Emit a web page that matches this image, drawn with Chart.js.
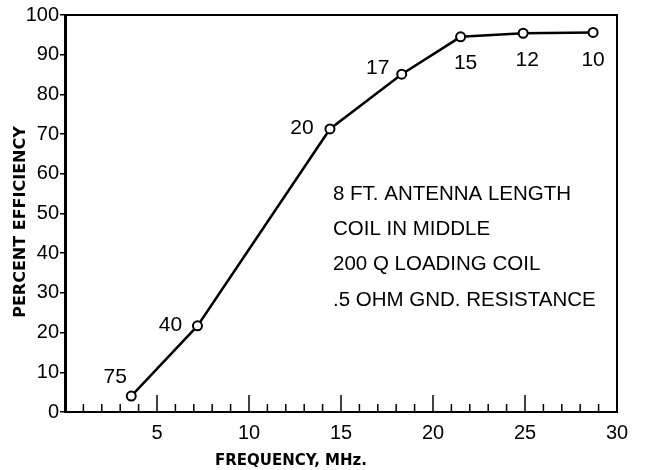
<!DOCTYPE html>
<html>
<head>
<meta charset="utf-8">
<script src="https://cdn.jsdelivr.net/npm/chart.js@4"></script>
<style>
  body { margin: 0; background: #fff; }
  #wrap { width: 645px; height: 470px; }
</style>
</head>
<body>
<div id="wrap"><canvas id="effChart" width="645" height="470"></canvas></div>
<script>
// frequency in MHz, efficiency in percent, band in meters
const freqMHz = [3.6, 7.2, 14.4, 18.3, 21.5, 24.9, 28.7]
const efficiency = [4, 21.7, 71.3, 85.1, 94.5, 95.4, 95.6]
const bandMeters = ["75", "40", "20", "17", "15", "12", "10"]
const noteLines = ["8 FT. ANTENNA LENGTH", "COIL IN MIDDLE", "200 Q LOADING COIL", ".5 OHM GND. RESISTANCE"]

const font = "'Liberation Sans', Arial, sans-serif"
const heavy = "'DejaVu Sans', sans-serif"

// where each band label sits relative to its point (px)
const labelOffsets = [[-16, -19], [-27, -1], [-28, -1], [-24, -6], [5, 26], [4, 27], [0, 28]]

const decorPlugin = {
    id: "decor",
    afterDraw(chart) {
        const ctx = chart.ctx
        const area = chart.chartArea
        const xs = chart.scales.x
        const ys = chart.scales.y
        ctx.save()

        // frame: top and right
        ctx.strokeStyle = "#000"
        ctx.lineWidth = 2
        ctx.beginPath()
        ctx.moveTo(area.left, area.top)
        ctx.lineTo(area.right, area.top)
        ctx.lineTo(area.right, area.bottom)
        ctx.stroke()

        // inward ticks on the frequency axis
        ctx.lineWidth = 1.5
        for (let v = 1; v < 30; v++) {
            const px = xs.getPixelForValue(v)
            const len = v % 5 === 0 ? 17 : 8
            ctx.beginPath()
            ctx.moveTo(px, area.bottom)
            ctx.lineTo(px, area.bottom - len)
            ctx.stroke()
        }

        // band labels
        ctx.fillStyle = "#000"
        ctx.font = "21px " + font
        ctx.textAlign = "center"
        ctx.textBaseline = "middle"
        bandMeters.forEach((b, i) => {
            const px = xs.getPixelForValue(freqMHz[i]) + labelOffsets[i][0]
            const py = ys.getPixelForValue(efficiency[i]) + labelOffsets[i][1]
            ctx.fillText(b, px, py)
        })

        // notes
        ctx.font = "20.5px " + font
        ctx.textAlign = "left"
        noteLines.forEach((t, i) => ctx.fillText(t, 333, 194 + i * 35.3))

        // axis titles
        ctx.font = "bold 15px " + heavy
        ctx.fillText("FREQUENCY, MHz.", 215, 461)
        ctx.save()
        ctx.translate(21, 222)
        ctx.rotate(-Math.PI / 2)
        ctx.textAlign = "center"
        ctx.font = "bold 16px " + heavy
        ctx.fillText("PERCENT EFFICIENCY", 0, 0)
        ctx.restore()

        ctx.restore()
    }
}

new Chart(document.getElementById("effChart").getContext("2d"), {
    type: "line",
    data: {
        datasets: [
            {
                label: "Efficiency",
                data: freqMHz.map((f, i) => ({ x: f, y: efficiency[i] })),
                borderColor: "#000",
                borderWidth: 2.5,
                pointRadius: 4.5,
                pointBorderWidth: 2,
                pointBackgroundColor: "#fff",
                pointBorderColor: "#000",
                tension: 0
            }
        ]
    },
    options: {
        responsive: false,
        animation: false,
        layout: { padding: { top: 15, right: 28, left: 0, bottom: 0 } },
        plugins: {
            legend: { display: false },
            tooltip: { enabled: false }
        },
        scales: {
            x: {
                type: "linear",
                min: 0,
                max: 30,
                afterFit: s => { s.height = 58 },
                border: { color: "#000", width: 2 },
                grid: { display: false, drawTicks: false },
                ticks: {
                    stepSize: 5,
                    padding: 9,
                    color: "#000",
                    font: { family: font, size: 20 },
                    callback: v => v === 0 ? "" : v
                }
            },
            y: {
                min: 0,
                max: 100,
                afterFit: s => { s.width = 65 },
                border: { color: "#000", width: 3 },
                grid: { drawOnChartArea: false, tickLength: 5, color: "#000", lineWidth: 1.5 },
                ticks: {
                    stepSize: 10,
                    padding: 1,
                    color: "#000",
                    font: { family: font, size: 20 }
                }
            }
        }
    },
    plugins: [decorPlugin]
})
</script>
</body>
</html>
